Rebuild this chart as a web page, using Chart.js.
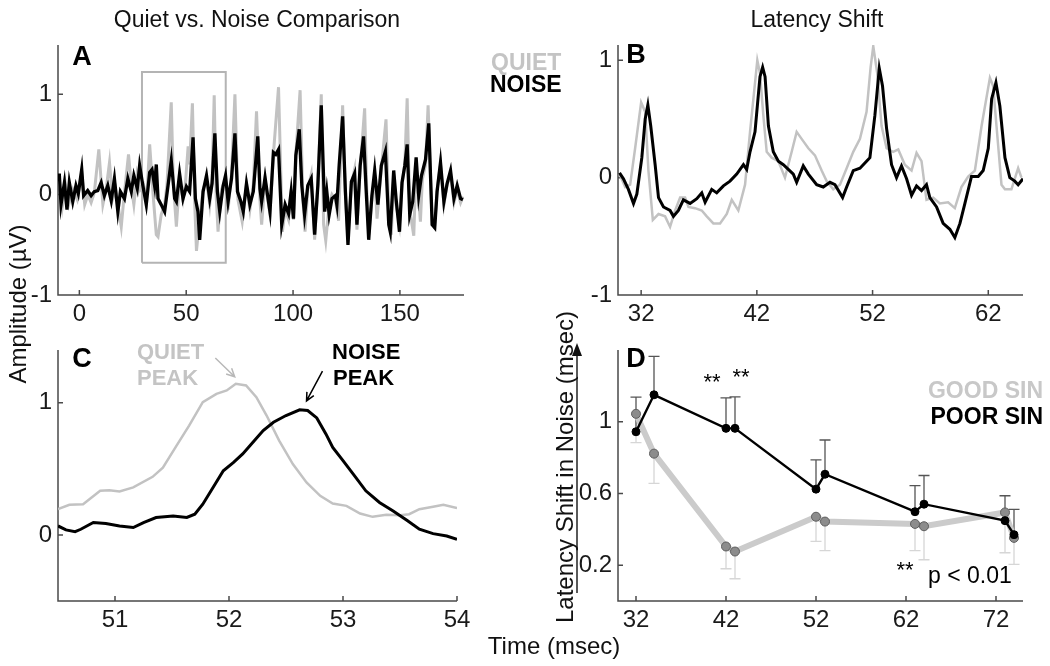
<!DOCTYPE html>
<html>
<head>
<meta charset="utf-8">
<script src="https://cdn.jsdelivr.net/npm/chart.js@4.4.0/dist/chart.umd.min.js"></script>
<style>
  body { margin: 0; background: #fff; }
  #page { position: relative; width: 1050px; height: 666px; overflow: hidden; font-family: "Liberation Sans", Arial, sans-serif; }
  canvas { position: absolute; left: 0; top: 0; }
  .t { position: absolute; white-space: nowrap; line-height: 1; }
  svg { position: absolute; left: 0; top: 0; }
</style>
</head>
<body>
<div id="page">
  <canvas id="cA" width="1050" height="666"></canvas>
  <canvas id="cB" width="1050" height="666"></canvas>
  <canvas id="cC" width="1050" height="666"></canvas>
  <canvas id="cD" width="1050" height="666"></canvas>
  <svg width="1050" height="666">
    <line x1="577" y1="593" x2="577" y2="352" stroke="#222" stroke-width="1.5"/>
    <path d="M577 343 L572 356 L582 356 Z" fill="#111"/>
  </svg>
</div>
<script>
// ---- panel A : full response, quiet vs noise (msec, µV)
const quietA = [[-9.4,0.15],[-8.0,-0.12],[-6.5,0.10],[-5.0,-0.10],[-3.0,0.05],[-1.0,-0.05],[1.1,0.22],[2.5,-0.10],[4.0,0.0],[5.5,-0.08],[7.0,0.02],[9.1,0.45],[11.0,-0.10],[12.5,0.05],[14.1,0.32],[15.5,-0.05],[17.0,0.05],[19.6,-0.32],[21.0,0.0],[23.0,0.40],[24.5,0.05],[25.5,-0.10],[27.0,0.20],[28.5,0.05],[30.0,0.10],[31.5,-0.05],[32.9,0.50],[34.5,0.0],[36.0,-0.40],[36.8,-0.42],[38.3,-0.20],[39.9,-0.10],[41.0,0.10],[43.0,0.92],[44.0,0.10],[45.4,-0.32],[46.9,0.15],[48.5,-0.05],[49.6,0.10],[50.9,0.48],[51.6,0.30],[52.9,0.91],[54.0,-0.10],[54.8,-0.56],[56.5,-0.20],[57.9,0.05],[59.5,0.15],[61.0,-0.10],[62.1,0.15],[63.1,0.99],[64.0,0.0],[64.9,-0.37],[66.5,0.05],[68.4,0.15],[69.6,-0.15],[71.2,0.20],[72.8,1.00],[74.2,-0.05],[76.2,-0.27],[78.2,0.10],[79.8,-0.15],[81.4,0.10],[82.9,0.83],[84.5,-0.05],[85.3,-0.30],[86.9,0.15],[88.5,-0.10],[89.2,-0.20],[90.8,0.40],[93.2,1.07],[95.0,-0.37],[96.3,-0.15],[97.9,-0.25],[99.1,0.05],[100.2,-0.25],[101.3,0.40],[103.3,1.04],[104.6,-0.05],[105.6,-0.37],[106.9,0.05],[108.5,0.20],[110.1,-0.45],[111.6,0.10],[113.2,1.00],[114.3,-0.30],[115.3,-0.46],[116.9,-0.10],[118.2,0.0],[119.8,-0.05],[121.3,-0.26],[122.2,0.30],[123.2,0.89],[124.5,0.0],[125.7,-0.45],[127.3,0.10],[128.8,0.25],[129.9,-0.35],[131.4,0.25],[133.5,0.86],[134.5,0.05],[135.4,-0.40],[136.9,-0.05],[138.2,0.20],[139.3,-0.24],[141.3,0.25],[143.5,0.75],[144.8,-0.20],[146.0,-0.40],[147.1,0.20],[148.2,-0.10],[149.8,-0.30],[151.0,0.10],[152.3,0.30],[153.4,0.96],[154.6,-0.15],[156.5,-0.41],[157.6,0.30],[159.6,-0.27],[160.5,0.15],[162.0,0.30],[163.2,0.89],[165.1,-0.30],[166.3,-0.30],[167.4,0.05],[169.0,0.30],[170.6,-0.10],[172.1,0.10],[173.7,0.20],[175.3,-0.08],[176.8,0.05],[178.4,-0.08],[179.5,-0.02]];
const noiseA = [[-9.4,0.21],[-8.6,-0.10],[-7.0,0.12],[-5.8,-0.15],[-4.7,0.12],[-3.1,-0.07],[-1.6,0.09],[-0.5,0.01],[1.1,0.25],[2.0,-0.01],[3.9,0.04],[5.5,-0.01],[7.0,0.03],[8.6,0.04],[10.2,0.12],[11.7,-0.01],[13.3,0.09],[14.9,-0.06],[16.4,0.16],[18.0,-0.17],[19.2,0.03],[21.1,-0.04],[22.7,0.16],[24.3,0.03],[25.5,0.19],[27.1,0.06],[28.2,0.29],[29.7,0.09],[31.3,-0.10],[32.9,0.22],[34.0,0.25],[35.2,0.09],[36.0,0.30],[36.8,-0.04],[38.3,-0.10],[39.9,-0.17],[41.5,0.09],[43.0,0.34],[44.6,-0.04],[45.4,-0.07],[46.9,0.21],[48.5,-0.04],[50.1,0.08],[51.6,0.03],[53.2,0.57],[54.3,-0.04],[55.5,-0.17],[56.3,-0.45],[57.9,0.03],[59.5,0.19],[61.0,-0.04],[62.1,0.11],[63.4,0.61],[64.6,0.03],[65.7,-0.17],[67.3,0.09],[68.4,0.19],[69.6,-0.07],[71.2,0.16],[72.8,0.61],[74.0,0.03],[75.6,-0.07],[76.7,-0.17],[78.2,0.11],[79.8,-0.10],[81.4,0.03],[83.5,0.58],[84.5,0.06],[85.3,-0.07],[86.9,0.17],[88.5,-0.07],[89.2,-0.17],[90.8,0.42],[91.9,0.40],[93.2,0.45],[94.7,-0.30],[96.3,-0.10],[97.9,-0.19],[99.1,0.03],[100.2,-0.24],[101.3,0.39],[102.9,0.65],[104.1,0.09],[105.4,-0.20],[106.9,0.09],[108.5,0.16],[110.1,-0.40],[111.6,0.09],[113.2,0.89],[114.8,-0.17],[115.8,0.03],[116.9,-0.20],[118.2,-0.04],[119.8,-0.01],[120.5,-0.10],[121.6,0.30],[123.2,0.78],[124.5,0.03],[125.7,-0.50],[127.3,0.13],[128.8,0.21],[129.9,-0.30],[131.4,0.29],[133.0,0.58],[134.1,0.09],[135.4,-0.45],[136.9,-0.01],[138.2,0.24],[139.7,-0.10],[141.3,0.29],[143.2,0.43],[144.8,-0.30],[145.5,-0.37],[147.1,0.24],[148.2,-0.04],[149.8,-0.37],[151.0,0.12],[152.3,0.29],[153.4,0.50],[154.6,-0.20],[156.0,-0.07],[157.6,0.37],[158.8,-0.01],[160.1,0.19],[162.0,0.35],[163.5,0.71],[165.1,-0.30],[166.3,-0.33],[167.4,0.03],[169.0,0.32],[170.6,-0.07],[172.1,0.11],[173.7,0.24],[175.3,-0.04],[176.8,0.09],[178.4,-0.04],[179.5,-0.05]];
const boxA = [[29.3,-0.68],[29.3,1.22],[68.5,1.22],[68.5,-0.68],[29.3,-0.68]];
const ticksAx = [0, 50, 100, 150];
const ticksAy = [-1, 0, 1];

// ---- panel B : 30-65 msec zoom
const quietB = [[30.13,0.03],[30.62,-0.08],[31.05,-0.06],[31.48,0.25],[32.0,0.64],[32.35,0.56],[32.63,0.06],[33.01,-0.36],[33.5,-0.31],[34.07,-0.33],[34.5,-0.42],[34.94,-0.28],[35.37,-0.17],[35.8,-0.17],[36.09,-0.25],[36.66,-0.26],[37.24,-0.28],[37.67,-0.33],[38.24,-0.39],[38.82,-0.39],[39.4,-0.31],[39.83,-0.19],[40.4,-0.28],[40.98,-0.06],[41.41,0.39],[42.04,1.0],[42.27,0.89],[42.56,0.53],[42.85,0.22],[43.28,0.17],[43.86,0.14],[44.43,0.0],[45.01,0.22],[45.44,0.39],[45.87,0.33],[46.45,0.25],[47.02,0.19],[47.6,0.06],[48.03,-0.03],[48.6,-0.10],[49.18,-0.06],[49.76,0.08],[50.33,0.22],[50.91,0.33],[51.48,0.56],[51.83,0.94],[52.06,1.12],[52.4,0.89],[52.78,0.44],[53.21,0.25],[53.78,0.22],[54.22,0.24],[54.79,0.11],[55.37,0.06],[55.8,0.21],[56.23,0.14],[56.66,-0.19],[57.24,-0.17],[57.81,-0.22],[58.53,-0.21],[59.11,-0.26],[59.68,-0.08],[60.26,0.01],[60.84,0.06],[61.42,0.44],[62.14,0.85],[62.42,0.78],[62.71,0.44],[63.14,-0.06],[63.44,-0.10],[64.0,-0.10],[64.58,0.08],[64.87,0.0]];
const noiseB = [[30.13,0.04],[30.47,-0.01],[30.9,-0.10],[31.34,-0.22],[31.63,-0.14],[32.06,0.17],[32.35,0.50],[32.58,0.62],[32.83,0.44],[33.21,0.11],[33.5,-0.17],[33.93,-0.25],[34.5,-0.28],[34.79,-0.33],[35.22,-0.28],[35.65,-0.19],[36.23,-0.22],[36.81,-0.18],[37.24,-0.13],[37.53,-0.21],[38.1,-0.10],[38.53,-0.13],[39.11,-0.07],[39.68,-0.03],[40.26,0.03],[40.84,0.11],[41.12,0.07],[41.41,0.22],[41.84,0.39],[42.27,0.86],[42.5,0.94],[42.71,0.86],[43.0,0.44],[43.42,0.22],[43.86,0.14],[44.29,0.11],[44.72,0.07],[45.15,0.03],[45.44,-0.04],[46.01,0.10],[46.45,0.03],[47.17,-0.06],[47.74,-0.08],[48.32,-0.04],[48.75,-0.06],[49.41,-0.17],[49.76,-0.08],[50.33,0.06],[50.91,0.08],[51.48,0.14],[51.77,0.17],[52.2,0.53],[52.58,0.93],[52.86,0.78],[53.21,0.42],[53.64,0.11],[54.07,0.0],[54.5,0.10],[54.94,-0.01],[55.37,-0.15],[55.8,-0.07],[56.23,-0.11],[56.66,-0.06],[56.95,-0.17],[57.53,-0.25],[58.1,-0.39],[58.68,-0.44],[59.11,-0.51],[59.55,-0.39],[59.98,-0.22],[60.55,0.01],[61.13,0.01],[61.56,0.06],[62.0,0.25],[62.29,0.67],[62.66,0.81],[63.0,0.61],[63.44,0.17],[63.86,0.0],[64.29,-0.03],[64.58,-0.06],[65.0,-0.01]];
const ticksBx = [32, 42, 52, 62];
const ticksBy = [-1, 0, 1];

// ---- panel C : single peak around 52 msec
const quietC = [[50.5,0.195],[50.6,0.228],[50.72,0.233],[50.87,0.334],[50.95,0.339],[51.04,0.329],[51.16,0.36],[51.33,0.44],[51.42,0.51],[51.54,0.676],[51.65,0.828],[51.77,1.005],[51.89,1.068],[51.98,1.094],[52.06,1.144],[52.15,1.132],[52.24,1.043],[52.33,0.904],[52.44,0.714],[52.56,0.537],[52.68,0.397],[52.8,0.296],[52.91,0.238],[53.03,0.22],[53.15,0.162],[53.26,0.137],[53.38,0.152],[53.5,0.149],[53.58,0.157],[53.67,0.195],[53.79,0.213],[53.88,0.228],[54.0,0.203]];
const noiseC = [[50.5,0.068],[50.57,0.038],[50.65,0.025],[50.7,0.043],[50.81,0.094],[50.92,0.086],[51.04,0.068],[51.16,0.056],[51.25,0.094],[51.36,0.132],[51.51,0.144],[51.63,0.132],[51.7,0.157],[51.77,0.233],[51.86,0.359],[51.95,0.486],[52.04,0.549],[52.12,0.613],[52.21,0.701],[52.3,0.79],[52.39,0.853],[52.5,0.904],[52.62,0.947],[52.69,0.942],[52.77,0.886],[52.85,0.765],[52.91,0.663],[53.0,0.562],[53.09,0.461],[53.2,0.334],[53.32,0.246],[53.44,0.182],[53.56,0.111],[53.67,0.043],[53.79,0.01],[53.91,-0.008],[54.0,-0.033]];
const ticksCx = [51, 52, 53, 54];
const ticksCy = [0, 1];
const arrowsC = [
  { from: [51.88, 1.34], to: [52.05, 1.197], color: '#b8b8b8' },
  { from: [52.82, 1.24], to: [52.68, 1.015], color: '#000' }
];

// ---- panel D : latency shift per peak, good vs poor SIN
const peakTimes = [32, 34, 42, 43, 52, 53, 63, 64, 73, 74];
const poorSin = [0.944, 1.15, 0.963, 0.963, 0.624, 0.707, 0.498, 0.54, 0.448, 0.37];
const poorSinTop = [1.137, 1.365, 1.133, 1.139, 0.787, 0.898, 0.643, 0.70, 0.587, 0.511];
const goodSin = [1.044, 0.822, 0.304, 0.276, 0.47, 0.443, 0.43, 0.417, 0.494, 0.352];
const goodSinLow = [0.883, 0.656, 0.18, 0.124, 0.333, 0.281, 0.281, 0.23, 0.269, 0.204];
const ticksDx = [32, 42, 52, 62, 72];
const ticksDy = [0.2, 0.6, 1];

Chart.defaults.font.family = '"Liberation Sans", Arial, sans-serif';

const pts = arr => arr.map(p => ({ x: p[0], y: p[1] }));

// axis lines + inward tick marks, matlab style
const axesPlugin = {
  id: 'axesPlugin',
  beforeDatasetsDraw(chart) {
    const { ctx, chartArea: a, scales: { x, y } } = chart;
    ctx.save();
    ctx.strokeStyle = '#4a4a4a';
    ctx.lineWidth = 1.5;
    ctx.beginPath();
    ctx.moveTo(a.left, a.top);
    ctx.lineTo(a.left, a.bottom);
    ctx.lineTo(a.right, a.bottom);
    x.ticks.forEach(t => {
      const px = x.getPixelForValue(t.value);
      ctx.moveTo(px, a.bottom);
      ctx.lineTo(px, a.bottom - 5);
    });
    y.ticks.forEach(t => {
      const py = y.getPixelForValue(t.value);
      ctx.moveTo(a.left, py);
      ctx.lineTo(a.left + 5, py);
    });
    ctx.stroke();
    ctx.restore();
  }
};

function makeChart(id, area, xr, yr, xt, yt, datasets, extra) {
  return new Chart(document.getElementById(id), {
    type: 'line',
    data: { datasets },
    options: {
      responsive: false, animation: false, events: [],
      layout: { padding: { left: area.l - 50, right: 1050 - area.r, top: area.t, bottom: 666 - area.b - 40 } },
      plugins: { legend: { display: false }, tooltip: { enabled: false } },
      elements: { point: { radius: 0 }, line: { tension: 0 } },
      scales: {
        x: {
          type: 'linear', min: xr[0], max: xr[1],
          grid: { display: false, drawTicks: false }, border: { display: false },
          afterBuildTicks: s => { s.ticks = xt.map(v => ({ value: v })); },
          afterFit: s => { s.height = 40; },
          ticks: { font: { size: 24 }, color: '#1a1a1a', padding: 5, maxRotation: 0, autoSkip: false, callback: v => String(v) }
        },
        y: {
          type: 'linear', min: yr[0], max: yr[1],
          grid: { display: false, drawTicks: false }, border: { display: false },
          afterBuildTicks: s => { s.ticks = yt.map(v => ({ value: v })); },
          afterFit: s => { s.width = 50; },
          ticks: { font: { size: 24 }, color: '#1a1a1a', padding: 6, autoSkip: false, callback: v => String(v) }
        }
      }
    },
    plugins: [axesPlugin].concat(extra || [])
  });
}

const grayTrace = '#c2c2c2';

makeChart('cA', { l: 58, r: 464, t: 45, b: 295 }, [-10, 180], [-1, 1.49], ticksAx, ticksAy, [
  { data: pts(noiseA), borderColor: '#000', borderWidth: 3.3 },
  { data: pts(quietA), borderColor: grayTrace, borderWidth: 3 },
  { data: pts(boxA), borderColor: '#b4b4b4', borderWidth: 2 }
]);

makeChart('cB', { l: 618, r: 1023, t: 45, b: 295 }, [30, 65], [-1, 1.13], ticksBx, ticksBy, [
  { data: pts(noiseB), borderColor: '#000', borderWidth: 3 },
  { data: pts(quietB), borderColor: grayTrace, borderWidth: 2.5 }
]);

const peakArrows = {
  id: 'peakArrows',
  afterDatasetsDraw(chart) {
    const { ctx, scales: { x, y } } = chart;
    ctx.save();
    ctx.lineWidth = 1.5;
    arrowsC.forEach(a => {
      const x0 = x.getPixelForValue(a.from[0]), y0 = y.getPixelForValue(a.from[1]);
      const x1 = x.getPixelForValue(a.to[0]), y1 = y.getPixelForValue(a.to[1]);
      const ang = Math.atan2(y1 - y0, x1 - x0);
      ctx.strokeStyle = a.color;
      ctx.beginPath();
      ctx.moveTo(x0, y0); ctx.lineTo(x1, y1);
      ctx.moveTo(x1 - 9 * Math.cos(ang - 0.45), y1 - 9 * Math.sin(ang - 0.45));
      ctx.lineTo(x1, y1);
      ctx.lineTo(x1 - 9 * Math.cos(ang + 0.45), y1 - 9 * Math.sin(ang + 0.45));
      ctx.stroke();
    });
    ctx.restore();
  }
};

makeChart('cC', { l: 58, r: 457, t: 350, b: 601 }, [50.5, 54], [-0.5, 1.4], ticksCx, ticksCy, [
  { data: pts(noiseC), borderColor: '#000', borderWidth: 3 },
  { data: pts(quietC), borderColor: grayTrace, borderWidth: 2.5 }
], [peakArrows]);

const errorBars = {
  id: 'errorBars',
  beforeDatasetsDraw(chart) {
    const { ctx, scales: { x, y } } = chart;
    const draw = (vals, ends, color) => {
      ctx.strokeStyle = color;
      ctx.lineWidth = 1.3;
      ctx.beginPath();
      peakTimes.forEach((t, i) => {
        const px = x.getPixelForValue(t);
        const p0 = y.getPixelForValue(vals[i]), p1 = y.getPixelForValue(ends[i]);
        ctx.moveTo(px, p0); ctx.lineTo(px, p1);
        ctx.moveTo(px - 5.5, p1); ctx.lineTo(px + 5.5, p1);
      });
      ctx.stroke();
    };
    ctx.save();
    draw(goodSin, goodSinLow, '#d6d6d6');
    draw(poorSin, poorSinTop, '#555');
    ctx.restore();
  }
};

const xyD = vals => peakTimes.map((t, i) => ({ x: t, y: vals[i] }));

makeChart('cD', { l: 618, r: 1023, t: 350, b: 601 }, [30, 75], [0, 1.4], ticksDx, ticksDy, [
  { data: xyD(poorSin), borderColor: '#000', borderWidth: 2.4, pointRadius: 4, pointBackgroundColor: '#000', pointBorderColor: '#000', pointBorderWidth: 1 },
  { data: xyD(goodSin), borderColor: '#cbcbcb', borderWidth: 6, pointRadius: 4.5, pointBackgroundColor: '#8c8c8c', pointBorderColor: '#5e5e5e', pointBorderWidth: 1 }
], [errorBars]);

// ---- text
const page = document.getElementById('page');
function txt(s, x, y, o) {
  o = o || {};
  const d = document.createElement('div');
  d.className = 't';
  d.textContent = s;
  d.style.left = x + 'px';
  d.style.top = y + 'px';
  d.style.fontSize = (o.size || 22) + 'px';
  if (o.bold) d.style.fontWeight = 'bold';
  d.style.color = o.color || '#111';
  const ax = o.align === 'left' ? '0' : o.align === 'right' ? '-100%' : '-50%';
  d.style.transform = 'translate(' + ax + ',-50%)' + (o.rot ? ' rotate(-90deg)' : '');
  page.appendChild(d);
}

txt('Quiet vs. Noise Comparison', 257, 19, { size: 23 });
txt('Latency Shift', 817, 19, { size: 23 });
txt('A', 82, 56, { size: 27, bold: true, color: '#000' });
txt('B', 636, 54, { size: 27, bold: true, color: '#000' });
txt('C', 82, 358, { size: 27, bold: true, color: '#000' });
txt('D', 636, 358, { size: 27, bold: true, color: '#000' });
txt('QUIET', 491, 62, { size: 23, bold: true, color: '#c4c4c4', align: 'left' });
txt('NOISE', 490, 84, { size: 23, bold: true, color: '#000', align: 'left' });
txt('QUIET', 137, 352, { size: 22, bold: true, color: '#c4c4c4', align: 'left' });
txt('PEAK', 137, 378, { size: 22, bold: true, color: '#c4c4c4', align: 'left' });
txt('NOISE', 332, 352, { size: 22, bold: true, color: '#000', align: 'left' });
txt('PEAK', 333, 378, { size: 22, bold: true, color: '#000', align: 'left' });
txt('GOOD SIN', 1043, 390, { size: 23, bold: true, color: '#c8c8c8', align: 'right' });
txt('POOR SIN', 1043, 416, { size: 23, bold: true, color: '#000', align: 'right' });
txt('**', 712, 382, { size: 22, color: '#000' });
txt('**', 741, 377, { size: 22, color: '#000' });
txt('**', 905, 570, { size: 22, color: '#000' });
txt('p < 0.01', 928, 575, { size: 23, color: '#000', align: 'left' });
txt('Amplitude (\u00b5V)', 18, 304, { size: 24, rot: true });
txt('Latency Shift in Noise (msec)', 565, 467, { size: 24, rot: true });
txt('Time (msec)', 554, 646, { size: 24 });
</script>
</body>
</html>
